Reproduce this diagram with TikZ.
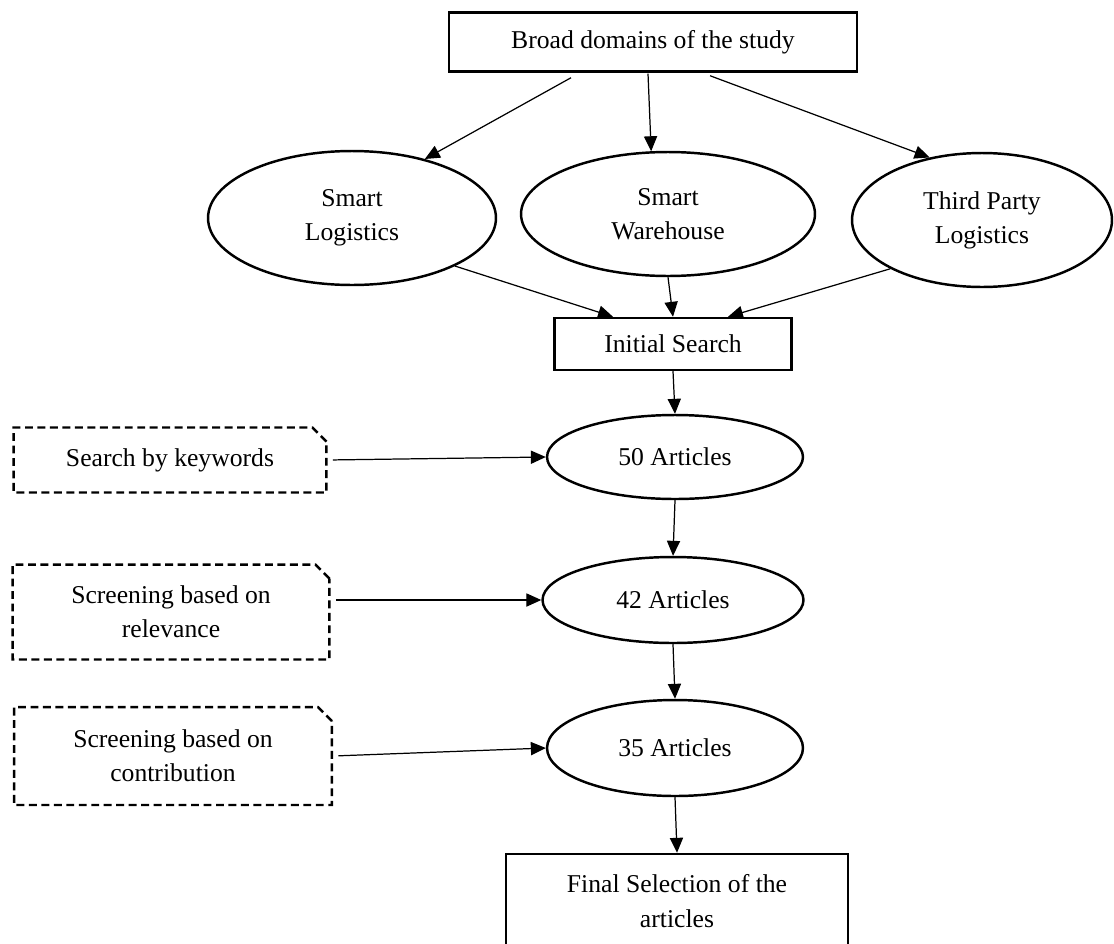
\documentclass[tikz,border=0pt]{standalone}
\usepackage{fontspec}
\setmainfont{Liberation Serif}
\usepackage{tikz}
\usetikzlibrary{arrows.meta,shapes.geometric,shapes.misc,calc}

\begin{document}
\begin{tikzpicture}[x=0.02cm,y=-0.02cm,
	font=\fontsize{14.6}{19.5}\selectfont,
	box/.style={draw,line width=1.4pt,inner sep=0pt,align=center},
	oval/.style={ellipse,draw,line width=1.4pt,inner sep=0pt,align=center},
	dashbox/.style={chamfered rectangle,chamfered rectangle corners=north east,
		chamfered rectangle sep=4pt,draw,line width=1.4pt,dash pattern=on 4.5pt off 2.6pt,
		inner sep=0pt,align=center},
	arr/.style={-{Triangle[length=8.5pt,width=7.5pt]},line width=0.7pt}]
	\useasboundingbox (0,0) rectangle (1114,943);
	\clip (0,0) rectangle (1114,943);

	\node[box,minimum width=8.16cm,minimum height=1.18cm] at (653,42) (broad) {Broad domains of the study};

	\node[oval,minimum width=5.76cm,minimum height=2.68cm] at (352,218) (sl) {Smart\\Logistics};
	\node[oval,minimum width=5.88cm,minimum height=2.48cm] at (668,214) (sw) {Smart\\Warehouse};
	\node[oval,minimum width=5.2cm,minimum height=2.68cm] at (982,220) (tp) {Third Party\\Logistics};

	\node[box,minimum width=4.74cm,minimum height=1.04cm] at (673,344) (init) {Initial Search};

	\node[oval,minimum width=5.12cm,minimum height=1.68cm] at (675,457) (a50) {50 Articles};
	\node[oval,minimum width=5.22cm,minimum height=1.72cm] at (673,600) (a42) {42 Articles};
	\node[oval,minimum width=5.12cm,minimum height=1.92cm] at (675,748) (a35) {35 Articles};

	\node[box,minimum width=6.84cm,minimum height=1.88cm] at (677,901) (final) {Final Selection of the\\articles};

	\node[dashbox,minimum width=6.26cm,minimum height=1.3cm] at (170,460) (kw) {Search by keywords};
	\node[dashbox,minimum width=6.34cm,minimum height=1.9cm] at (171,612) (rel) {Screening based on\\relevance};
	\node[dashbox,minimum width=6.36cm,minimum height=1.96cm] at (173,756) (con) {Screening based on\\contribution};

	\draw[arr] ($(broad.south)+(-82,5)$) -- (sl.39);
	\draw[arr] ($(broad.south)+(-5,1)$) -- (sw.105);
	\draw[arr] ($(broad.south)+(57,3)$) -- (tp.130);

	\draw[arr] (sl.-25) -- ($(init.north)+(-60,0)$);
	\draw[arr] (sw.south) -- (init.north);
	\draw[arr] (tp.-152) -- ($(init.north)+(55,0)$);

	\draw[arr] (init.south) -- (a50.north);
	\draw[arr] (a50.south) -- (a42.north);
	\draw[arr] (a42.south) -- (a35.north);
	\draw[arr] (a35.south) -- (final.north);

	\draw[arr,shorten <=3pt] (kw.east) -- (a50.west);
	\draw[arr,shorten <=3pt] (rel.east |- a42.west) -- (a42.west);
	\draw[arr,shorten <=3pt] (con.east) -- (a35.west);
\end{tikzpicture}
\end{document}
